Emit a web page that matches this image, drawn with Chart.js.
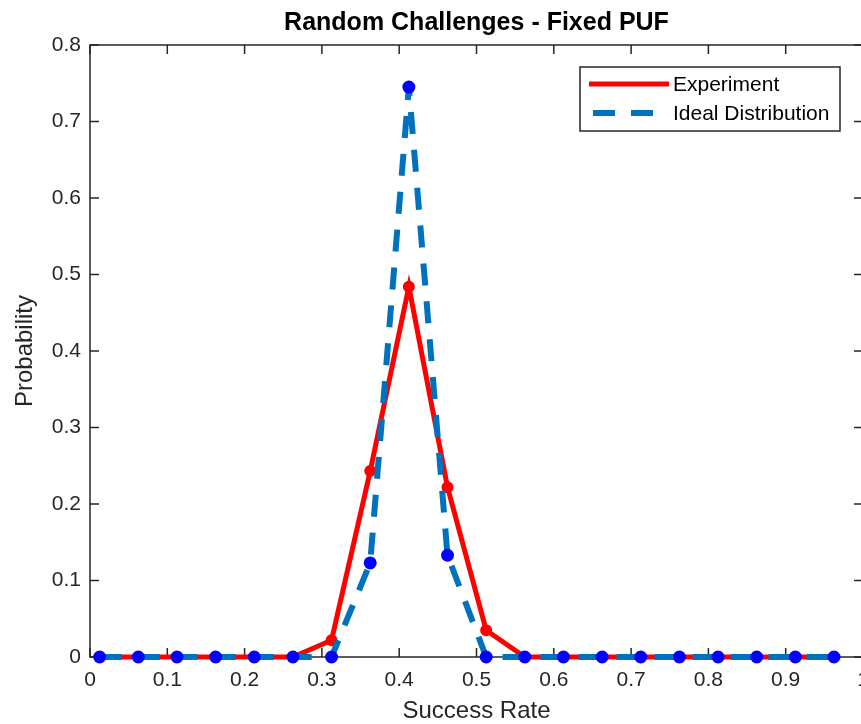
<!DOCTYPE html>
<html>
<head>
<meta charset="utf-8">
<script src="https://cdn.jsdelivr.net/npm/chart.js@4"></script>
<style>
  html, body { margin: 0; padding: 0; background: #fff; overflow: hidden; }
  #wrap { width: 880px; height: 724px; }
</style>
</head>
<body>
<div id="wrap"><canvas id="chart" width="880" height="724"></canvas></div>
<script>
const successRate = [0.0125, 0.0625, 0.1125, 0.1625, 0.2125, 0.2625, 0.3125, 0.3625, 0.4125, 0.4625,
  0.5125, 0.5625, 0.6125, 0.6625, 0.7125, 0.7625, 0.8125, 0.8625, 0.9125, 0.9625];
const experiment = [0, 0, 0, 0, 0, 0, 0.022, 0.243, 0.484, 0.222,
  0.035, 0, 0, 0, 0, 0, 0, 0, 0, 0];
const ideal = [0, 0, 0, 0, 0, 0, 0, 0.123, 0.745, 0.133,
  0, 0, 0, 0, 0, 0, 0, 0, 0, 0];
const seriesNames = ["Experiment", "Ideal Distribution"];
const chartTitle = "Random Challenges - Fixed PUF";

const FONT = "'Liberation Sans', Arial, Helvetica, sans-serif";
const AXIS = "#262626";

const toPoints = (ys) => ys.map((y, i) => ({ x: successRate[i], y: y }));
const tickLabel = (v) => String(Math.round(v * 10) / 10);

// box, inward ticks on all four sides, title and legend (MATLAB style)
const matlabAxes = {
  id: "matlabAxes",
  beforeDatasetsDraw(chart) {
    const { ctx, chartArea: a, scales } = chart;
    const len = 9;
    ctx.save();
    ctx.strokeStyle = AXIS;
    ctx.lineWidth = 1.5;
    ctx.strokeRect(a.left, a.top, a.right - a.left, a.bottom - a.top);
    ctx.beginPath();
    scales.x.ticks.forEach((t) => {
      const px = scales.x.getPixelForValue(t.value);
      ctx.moveTo(px, a.bottom); ctx.lineTo(px, a.bottom - len);
      ctx.moveTo(px, a.top); ctx.lineTo(px, a.top + len);
    });
    scales.y.ticks.forEach((t) => {
      const py = scales.y.getPixelForValue(t.value);
      ctx.moveTo(a.left, py); ctx.lineTo(a.left + len, py);
      ctx.moveTo(a.right, py); ctx.lineTo(a.right - len, py);
    });
    ctx.stroke();
    ctx.restore();
  },
  afterDraw(chart) {
    const { ctx, chartArea: a } = chart;
    ctx.save();
    // title
    ctx.fillStyle = "#000";
    ctx.font = "bold 25px " + FONT;
    ctx.textAlign = "center";
    ctx.textBaseline = "middle";
    ctx.fillText(chartTitle, (a.left + a.right) / 2, 23);

    // legend
    const bx = 580, by = 67, bw = 260, bh = 64;
    ctx.fillStyle = "#fff";
    ctx.fillRect(bx, by, bw, bh);
    ctx.strokeStyle = AXIS;
    ctx.lineWidth = 1.5;
    ctx.strokeRect(bx, by, bw, bh);

    const ds = chart.data.datasets;
    const rows = [84, 113];
    ds.forEach((d, i) => {
      ctx.strokeStyle = d.borderColor;
      ctx.lineWidth = d.borderWidth;
      ctx.setLineDash(d.borderDash || []);
      ctx.beginPath();
      if (d.borderDash) {
        ctx.moveTo(593, rows[i]); ctx.lineTo(669, rows[i]);
      } else {
        ctx.moveTo(589, rows[i]); ctx.lineTo(669, rows[i]);
      }
      ctx.stroke();
      ctx.setLineDash([]);
      ctx.fillStyle = "#000";
      ctx.font = "21px " + FONT;
      ctx.textAlign = "left";
      ctx.textBaseline = "middle";
      ctx.fillText(d.label, 673, rows[i] + 1);
    });
    ctx.restore();
  },
};

new Chart(document.getElementById("chart"), {
  type: "line",
  data: {
    datasets: [
      {
        label: seriesNames[0],
        data: toPoints(experiment),
        borderColor: "#ff0000",
        borderWidth: 5,
        pointRadius: 5,
        pointBorderWidth: 2,
        pointBackgroundColor: "#ff0000",
        pointBorderColor: "#ff0000",
        tension: 0,
        clip: false,
        order: 2,
      },
      {
        label: seriesNames[1],
        data: toPoints(ideal),
        borderColor: "#0072bd",
        borderWidth: 6,
        borderDash: [22, 16],
        pointRadius: 5.5,
        pointBorderWidth: 2,
        pointBackgroundColor: "#0000ff",
        pointBorderColor: "#0000ff",
        tension: 0,
        clip: false,
        order: 1,
      },
    ],
  },
  options: {
    responsive: false,
    animation: false,
    layout: { padding: { top: 45, right: 17, left: 0, bottom: 0 } },
    plugins: {
      legend: { display: false },
      title: { display: false },
      tooltip: { enabled: false },
    },
    scales: {
      x: {
        type: "linear",
        min: 0,
        max: 1,
        grid: { display: false, drawTicks: false },
        border: { display: false },
        ticks: {
          stepSize: 0.1, color: "#262626", font: { family: FONT, size: 21 }, padding: 11, maxRotation: 0,
          callback: tickLabel,
        },
        title: {
          display: true,
          text: "Success Rate",
          color: "#262626",
          font: { family: FONT, size: 24, lineHeight: 1 },
          padding: { top: 0, bottom: 1 },
        },
        afterFit(scale) {
          scale.height = 67;
          scale.paddingLeft = 0;
          scale.paddingRight = 0;
        },
      },
      y: {
        min: 0,
        max: 0.8,
        grid: { display: false, drawTicks: false },
        border: { display: false },
        ticks: { stepSize: 0.1, color: "#262626", font: { family: FONT, size: 21 }, padding: 9, callback: tickLabel },
        title: {
          display: true,
          text: "Probability",
          color: "#262626",
          font: { family: FONT, size: 24, lineHeight: 1 },
          padding: { top: 13, bottom: 0 },
        },
        afterFit(scale) { scale.width = 90; },
      },
    },
  },
  plugins: [matlabAxes],
});
</script>
</body>
</html>
